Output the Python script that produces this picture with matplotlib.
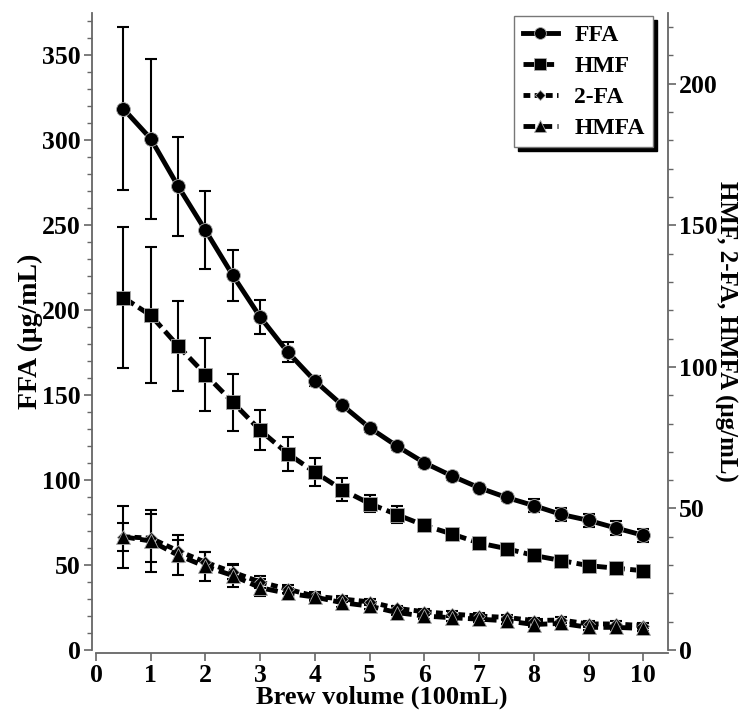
import matplotlib
matplotlib.use('Agg')
from matplotlib import pyplot as plt

# brew volume (100 mL)
volume = [0.5, 1, 1.5, 2, 2.5, 3, 3.5, 4, 4.5, 5,
          5.5, 6, 6.5, 7, 7.5, 8, 8.5, 9, 9.5, 10]

# FFA on left axis (ug/mL)
ffa = [318.6, 301, 273, 247, 220.5, 196, 175.5, 158.4, 144.1, 130.8,
       120, 110.2, 102.5, 95.5, 89.8, 85, 79.8, 76.3, 71.8, 67.5]
ffa_err = [48, 47, 29, 23, 15, 10, 6, 3, 2.5, 2.5,
           2.5, 2.5, 2.5, 2, 2, 4, 4, 4, 4, 4]

# right axis compounds (ug/mL)
hmf = [124.5, 118.2, 107.4, 97.3, 87.5, 77.6, 69.4, 62.8, 56.6, 51.7,
       47.8, 44.0, 41.0, 37.8, 35.8, 33.4, 31.6, 29.8, 28.9, 28.0]
hmf_err = [25, 24, 16, 13, 10, 7, 6, 5, 4, 3,
           3, 1.5, 1.5, 1.5, 1, 1, 1, 1, 1, 1]

fa2 = [40, 39.5, 35, 31, 27.5, 24, 21.5, 19, 18, 17,
       14.7, 13.5, 12.7, 12, 11.5, 10.4, 10.6, 9.2, 9.2, 8.6]
fa2_err = [5, 8.5, 4, 3.5, 2.5, 2, 1.5, 1.5, 1, 1,
           1, 1, 1, 1, 1, 1, 1, 1, 1, 1]

hmfa = [40, 38.5, 33.5, 29.5, 26.3, 22, 20, 18.7, 16.7, 15.5,
        13.2, 12, 11.4, 10.9, 10.3, 9, 9.4, 8, 8, 7.6]
hmfa_err = [11, 11, 7, 5, 4, 3, 2, 1.5, 1.5, 1,
            1, 1, 1, 1, 1, 1, 1, 1, 1, 1]

plt.rcParams['font.family'] = ['Liberation Serif', 'DejaVu Serif']
plt.rcParams['font.weight'] = 'bold'
plt.rcParams['axes.labelweight'] = 'bold'

spine_c = '#666666'

fig = plt.figure(figsize=(7.5, 7.16), dpi=100)
ax = fig.add_axes([96 / 750, 66 / 716, 572 / 750, 637 / 716])
ax2 = ax.twinx()

eb = dict(fmt='none', ecolor='black', elinewidth=1.5, capsize=4.5, capthick=1.5, zorder=2)
mk = dict(color='black', markeredgecolor='#aaaaaa', markeredgewidth=0.6, zorder=3)

ax.errorbar(volume, ffa, yerr=ffa_err, **eb)
l1, = ax.plot(volume, ffa, '-', marker='o', lw=3.5, ms=10, label='FFA', **mk)

ax2.errorbar(volume, hmf, yerr=hmf_err, **eb)
ax2.errorbar(volume, fa2, yerr=fa2_err, **eb)
ax2.errorbar(volume, hmfa, yerr=hmfa_err, **eb)
l2, = ax2.plot(volume, hmf, '--', marker='s', lw=3.5, ms=9.5, dashes=(2.6, 1.1), label='HMF', **mk)
l3, = ax2.plot(volume, fa2, '--', marker='D', lw=3.5, ms=6.5, dashes=(1.4, 0.9), label='2-FA', **mk)
l4, = ax2.plot(volume, hmfa, '--', marker='^', lw=3.5, ms=9.5, dashes=(2.4, 1.1), label='HMFA', **mk)

ax.set_xlim(0, 10.45)
ax.set_ylim(0, 375)
ax2.set_ylim(0, 225)

ax.set_xticks(range(0, 11))
ax.set_yticks(range(0, 351, 50))
ax.set_yticks(range(0, 371, 10), minor=True)
ax2.set_yticks(range(0, 201, 50))
ax2.set_yticks(range(0, 221, 10), minor=True)

for s in ['top', 'right']:
    ax.spines[s].set_visible(False)
for s in ['top', 'left', 'bottom']:
    ax2.spines[s].set_visible(False)
ax.spines['left'].set_position(('outward', 3))
ax.spines['bottom'].set_position(('outward', 2.4))
for sp in [ax.spines['left'], ax.spines['bottom'], ax2.spines['right']]:
    sp.set_color(spine_c)
    sp.set_linewidth(1.3)

ax.tick_params(axis='both', which='major', direction='out', length=6, width=1.2,
               color=spine_c, labelsize=18.5, pad=2)
ax.tick_params(axis='y', which='minor', direction='out', length=3.5, width=1.0, color=spine_c)
ax2.tick_params(axis='y', which='major', direction='out', length=6, width=1.2,
                color=spine_c, labelsize=18.5, pad=2)
ax2.tick_params(axis='y', which='minor', direction='out', length=3.5, width=1.0, color=spine_c)

ax.set_xlabel('Brew volume (100mL)', fontsize=19, labelpad=-1)
ax.set_ylabel('FFA (μg/mL)', fontsize=20, labelpad=-1)
ax2.set_ylabel('HMF, 2-FA, HMFA (μg/mL)', fontsize=18, rotation=270, labelpad=14)

leg = ax2.legend(handles=[l1, l2, l3, l4], loc='upper right',
                 bbox_to_anchor=(0.974, 0.995), borderaxespad=0,
                 fontsize=17, handlelength=1.5, handletextpad=0.7,
                 labelspacing=0.4, fancybox=False, frameon=True,
                 shadow={'color': 'black', 'alpha': 1, 'ox': 3, 'oy': -3},
                 borderpad=0.35, markerscale=0.85)
leg.get_frame().set_edgecolor('#777777')
leg.get_frame().set_linewidth(1.0)

fig.savefig('out.png', dpi=100)
